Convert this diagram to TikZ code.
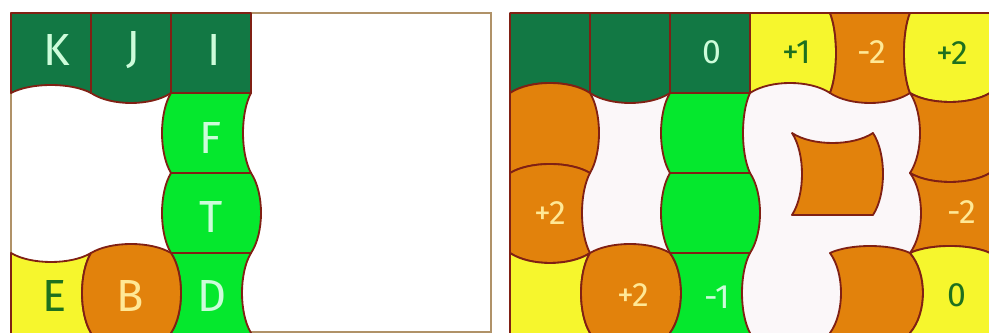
\documentclass[tikz,border=0pt]{standalone}
\usepackage{fontspec}
\setmainfont{Fira Sans}
\definecolor{dkgreen}{RGB}{18,120,68}
\definecolor{ltgreen}{RGB}{5,232,45}
\definecolor{tileyellow}{RGB}{246,246,45}
\definecolor{tileorange}{RGB}{226,130,12}
\definecolor{edgered}{RGB}{128,32,20}
\definecolor{blank}{RGB}{251,247,249}
\definecolor{tanline}{RGB}{176,146,104}
\definecolor{mint}{RGB}{205,252,218}
\definecolor{paleyellow}{RGB}{255,232,150}
\definecolor{darktext}{RGB}{30,112,30}

% curved tile edges: from x1 to x2 at height y, bulging by d (and the same upright)
\newcommand{\hbow}[4]{.. controls ({#1+0.25*(#2-#1)},{#3+4/3*(#4)}) and ({#1+0.75*(#2-#1)},{#3+4/3*(#4)}) .. (#2,#3)}
\newcommand{\vbow}[4]{.. controls ({#3+4/3*(#4)},{#1+0.25*(#2-#1)}) and ({#3+4/3*(#4)},{#1+0.75*(#2-#1)}) .. (#3,#2)}

\begin{document}
\begin{tikzpicture}[x=0.025cm, y=-0.025cm,
  tile/.style={draw=edgered, line width=1.3pt, line join=round},
  frame/.style={draw=tanline, line width=1.2pt},
  letter/.style={font=\fontsize{32}{32}\selectfont},
  number/.style={font=\fontsize{24}{24}\selectfont}]

  \useasboundingbox (0,0) rectangle (989,333);
  \clip (0,0) rectangle (989,333);
  \fill[white] (0,0) rectangle (989,333);

  % left board
  \draw[frame] (11,13) rectangle (491,332);
  \draw[tile, fill=dkgreen] (11,13) -- (91,13) -- (91,93) \hbow{91}{11}{93}{-8} -- cycle;
  \draw[tile, fill=dkgreen] (91,13) -- (171,13) -- (171,93) \hbow{171}{91}{93}{10} -- cycle;
  \draw[tile, fill=dkgreen] (171,13) rectangle (251,93);
  \draw[tile, fill=ltgreen] (171,93) -- (251,93) \vbow{93}{173}{251}{-8} -- (171,173) \vbow{173}{93}{171}{-9} -- cycle;
  \draw[tile, fill=ltgreen] (171,173) -- (251,173) \vbow{173}{253}{251}{10} -- (171,253) \vbow{253}{173}{171}{-9} -- cycle;
  \draw[tile, fill=ltgreen] (171,253) -- (251,253) \vbow{253}{333}{251}{-9} -- (251,340) -- (171,340) -- (171,333) \vbow{333}{253}{171}{10} -- cycle;
  \draw[tile, fill=tileyellow] (11,253) \hbow{11}{91}{253}{9} \vbow{253}{333}{91}{-9} -- (91,340) -- (11,340) -- cycle;
  \draw[tile, fill=tileorange] (91,253) \hbow{91}{171}{253}{-9} \vbow{253}{333}{171}{10} -- (171,340) -- (91,340) -- (91,333) \vbow{333}{253}{91}{-9} -- cycle;

  \node[letter, text=mint] (k) at (57,50) {K};
  \node[letter, text=mint] (j) at (133,50) {J};
  \node[letter, text=mint] (i) at (214,50) {I};
  \node[letter, text=mint] (f) at (211,138) {F};
  \node[letter, text=mint] (t) at (211,217) {T};
  \node[letter, text=mint] (d) at (212,296) {D};
  \node[letter, text=darktext] (e) at (55,296) {E};
  \node[letter, text=paleyellow] (b) at (130,296) {B};

  % right board
  \fill[blank] (510,13) rectangle (990,340);
  \draw[tile, fill=dkgreen] (510,13) -- (590,13) -- (590,93) \hbow{590}{510}{93}{-10} -- cycle;
  \draw[tile, fill=dkgreen] (590,13) -- (670,13) -- (670,93) \hbow{670}{590}{93}{10} -- cycle;
  \draw[tile, fill=dkgreen] (670,13) rectangle (750,93);
  \draw[tile, fill=tileyellow] (750,13) -- (830,13) \vbow{13}{93}{830}{6} \hbow{830}{750}{93}{-10} -- cycle;
  \draw[tile, fill=tileorange] (830,13) -- (910,13) \vbow{13}{93}{910}{-6} \hbow{910}{830}{93}{10} \vbow{93}{13}{830}{6} -- cycle;
  \draw[tile, fill=tileyellow] (910,13) -- (990,13) -- (990,93) \hbow{990}{910}{93}{9} \vbow{93}{13}{910}{-6} -- cycle;

  \draw[tile, fill=tileorange] (510,93) \hbow{510}{590}{93}{-10} \vbow{93}{173}{590}{9} \hbow{590}{510}{173}{-9} -- cycle;
  \draw[tile, fill=ltgreen] (670,93) -- (750,93) \vbow{93}{173}{750}{-7} -- (670,173) \vbow{173}{93}{670}{-9} -- cycle;
  \draw[tile, fill=tileorange] (910,93) \hbow{910}{990}{93}{9} -- (990,173) \hbow{990}{910}{173}{9} \vbow{173}{93}{910}{10} -- cycle;

  \draw[tile, fill=tileorange] (510,173) \hbow{510}{590}{173}{-9} \vbow{173}{253}{590}{-8} \hbow{590}{510}{253}{10} -- cycle;
  \draw[tile, fill=ltgreen] (670,173) -- (750,173) \vbow{173}{253}{750}{10} -- (670,253) \vbow{253}{173}{670}{-9} -- cycle;
  \draw[tile, fill=tileorange] (910,173) \hbow{910}{990}{173}{9} -- (990,253) \hbow{990}{910}{253}{-7} \vbow{253}{173}{910}{11} -- cycle;

  \draw[tile, fill=tileyellow] (510,253) \hbow{510}{590}{253}{10} \vbow{253}{333}{590}{-9} -- (590,340) -- (510,340) -- cycle;
  \draw[tile, fill=tileorange] (590,253) \hbow{590}{670}{253}{-9} \vbow{253}{333}{670}{11} -- (670,340) -- (590,340) -- (590,333) \vbow{333}{253}{590}{-9} -- cycle;
  \draw[tile, fill=ltgreen] (670,253) -- (750,253) \vbow{253}{333}{750}{-8} -- (750,340) -- (670,340) -- (670,333) \vbow{333}{253}{670}{11} -- cycle;
  \draw[tile, fill=tileorange] (830,253) \hbow{830}{910}{253}{-7} \vbow{253}{333}{910}{13} -- (910,340) -- (830,340) -- (830,333) \vbow{333}{253}{830}{11} -- cycle;
  \draw[tile, fill=tileyellow] (910,253) \hbow{910}{990}{253}{-7} -- (990,340) -- (910,340) -- (910,333) \vbow{333}{253}{910}{13} -- cycle;

  % loose tile in the middle
  \draw[tile, fill=tileorange] (792,133) \hbow{792}{873}{133}{10} \vbow{133}{215}{873}{10} -- (792,215) \vbow{215}{133}{792}{10} -- cycle;

  \node[number, text=mint] (zeroA) at (712,52) {0};
  \node[number, text=darktext] (plusoneA) at (797,52) {+1};
  \node[number, text=paleyellow] (minustwoA) at (872,52) {-2};
  \node[number, text=darktext] (plustwoA) at (952,53) {+2};
  \node[number, text=paleyellow] (plustwoB) at (550,213) {+2};
  \node[number, text=paleyellow] (minustwoB) at (962,212) {-2};
  \node[number, text=paleyellow] (plustwoC) at (633,295) {+2};
  \node[number, text=mint] (minusone) at (717,297) {-1};
  \node[number, text=darktext] (zeroB) at (957,295) {0};
\end{tikzpicture}
\end{document}
